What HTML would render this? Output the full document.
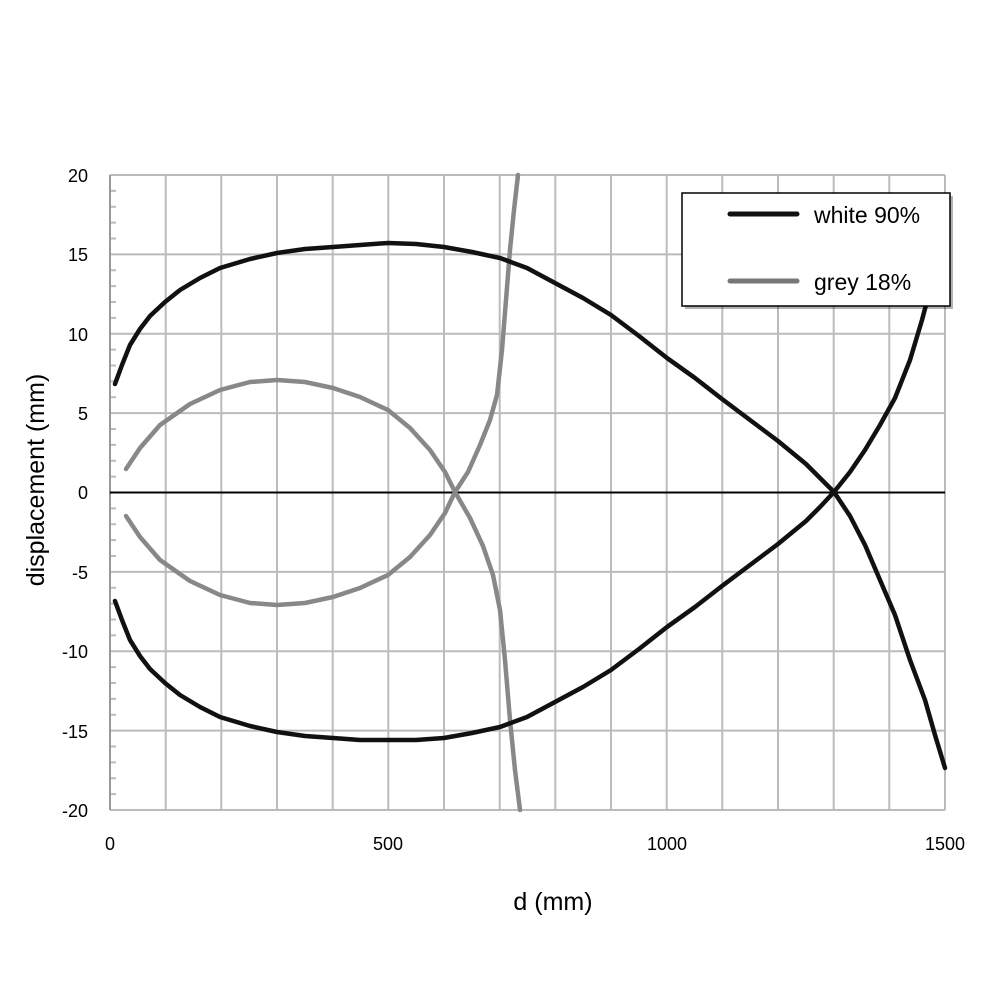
<!DOCTYPE html>
<html><head><style>body{margin:0;background:#fff}</style></head><body>
<svg width="1000" height="1000" xmlns="http://www.w3.org/2000/svg" font-family="Liberation Sans, sans-serif">
<g stroke="#bbb" stroke-width="2" fill="none">
<path d="M165.7 175V810M221.3 175V810M277 175V810M332.7 175V810M388.3 175V810M444 175V810M499.7 175V810M555.3 175V810M611 175V810M666.7 175V810M722.3 175V810M778 175V810M833.7 175V810M889.3 175V810M945 175V810"/>
<path d="M110 175H945M110 254.4H945M110 333.8H945M110 413.1H945M110 571.9H945M110 651.3H945M110 730.6H945M110 810H945"/>
<path d="M110 190.9h6M110 206.8h6M110 222.6h6M110 238.5h6M110 270.3h6M110 286.1h6M110 302h6M110 317.9h6M110 349.6h6M110 365.5h6M110 381.4h6M110 397.3h6M110 429h6M110 444.9h6M110 460.8h6M110 476.6h6M110 508.4h6M110 524.3h6M110 540.1h6M110 556h6M110 587.8h6M110 603.6h6M110 619.5h6M110 635.4h6M110 667.1h6M110 683h6M110 698.9h6M110 714.8h6M110 746.5h6M110 762.4h6M110 778.3h6M110 794.1h6"/>
</g>
<line x1="110" y1="175" x2="110" y2="810" stroke="#999" stroke-width="2"/>
<line x1="110" y1="492.5" x2="945" y2="492.5" stroke="#000" stroke-width="2"/>
<g fill="none" stroke-width="4.5" stroke-linejoin="round" stroke-linecap="round">
<polyline stroke="#888" points="126,469 140,448 160,425 190,404 220,390 250,382 277,380 305,382 333,388 360,397 388,410 410,428 430,450 445,472 455,492 470,518 483,546 493,575 500,610 505,660 510,720 515,770 520,810"/>
<polyline stroke="#888" points="126,516 140,537 160,560 190,581 220,595 250,603 277,605 305,603 333,597 360,588 388,575 410,557 430,535 445,513 455,492 468,472 480,445 490,420 497,395 502,350 506,300 510,250 514,210 518,175"/>
<polyline stroke="#111" points="115,384 122,365 130,345 140,329 150,316 165,302 180,290 200,278 220,268 250,259 277,253 305,249 333,247 360,245 388,243 416,244 444,247 472,252 500,258 527,268 555,283 583,298 611,315 639,336 667,358 695,378 722,399 750,420 778,441 806,464 820,478 834,492 850,516 865,545 880,580 895,615 910,660 925,700 935,735 945,768"/>
<polyline stroke="#111" points="115,601 122,620 130,640 140,656 150,669 165,683 180,695 200,707 220,717 250,726 277,732 305,736 333,738 360,740 388,740 416,740 444,738 472,733 500,727 527,717 555,702 583,687 611,670 639,649 667,627 695,607 722,586 750,565 778,544 806,521 820,507 834,492 850,472 865,450 880,425 895,398 910,360 922,320 930,290"/>
</g>
<g font-size="18" fill="#000" text-anchor="end">
<text x="88" y="182">20</text><text x="88" y="261">15</text><text x="88" y="341">10</text><text x="88" y="420">5</text><text x="88" y="499">0</text><text x="88" y="579">-5</text><text x="88" y="658">-10</text><text x="88" y="738">-15</text><text x="88" y="817">-20</text>
</g>
<g font-size="18" fill="#000" text-anchor="middle">
<text x="110" y="850">0</text><text x="388" y="850">500</text><text x="667" y="850">1000</text><text x="945" y="850">1500</text>
</g>
<text x="553" y="910" font-size="25" text-anchor="middle">d (mm)</text>
<text transform="translate(44,480) rotate(-90)" font-size="25" text-anchor="middle">displacement (mm)</text>
<rect x="685" y="196" width="268" height="113" fill="#000" opacity="0.3"/>
<rect x="682" y="193" width="268" height="113" fill="#fff" stroke="#000" stroke-width="1.5"/>
<line x1="730" y1="214" x2="797" y2="214" stroke="#111" stroke-width="5" stroke-linecap="round"/>
<line x1="730" y1="281" x2="797" y2="281" stroke="#777" stroke-width="5" stroke-linecap="round"/>
<text x="814" y="223" font-size="23">white 90%</text>
<text x="814" y="290" font-size="23">grey 18%</text>
</svg>
</body></html>
